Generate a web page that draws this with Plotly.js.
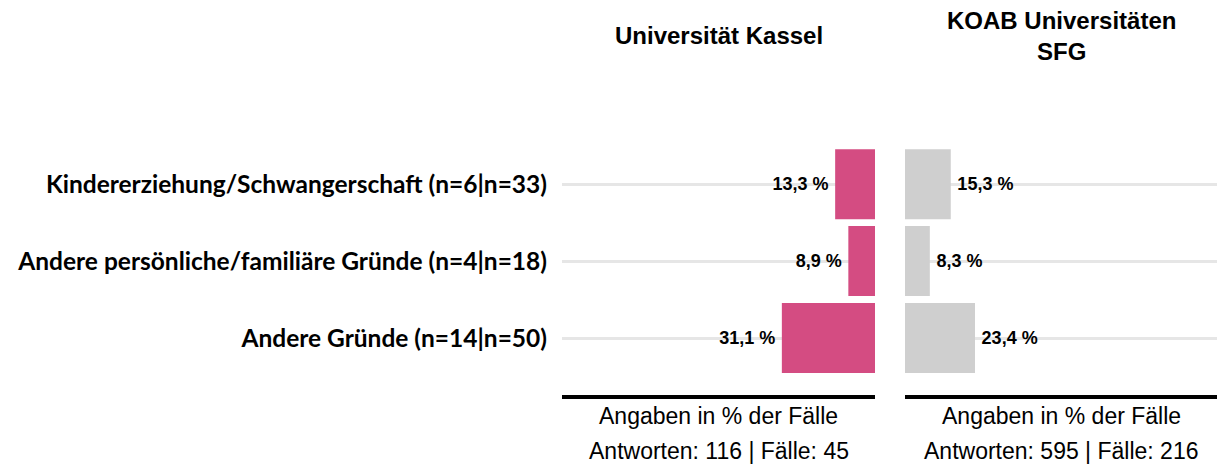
<!DOCTYPE html>
<html>
<head>
<meta charset="utf-8">
<script src="https://cdn.plot.ly/plotly-3.0.1.min.js"></script>
<style>html,body{margin:0;padding:0;background:#fff;}#chart{width:1226px;height:468px;}</style>
</head>
<body>
<div id="chart"></div>
<script>
const categories = [
  "Kindererziehung/Schwangerschaft (n=6|n=33)",
  "Andere persönliche/familiäre Gründe (n=4|n=18)",
  "Andere Gründe (n=14|n=50)"
];
const kasselValues = [13.3, 8.9, 31.1];
const koabValues = [15.3, 8.3, 23.4];
const panelTitles = ["Universität Kassel", "KOAB Universitäten<br>SFG"];
const footLine1 = ["Angaben in % der Fälle", "Angaben in % der Fälle"];
const footLine2 = ["Antworten: 116 | Fälle: 45", "Antworten: 595 | Fälle: 216"];

const fmt = v => v.toFixed(1).replace('.', ',') + ' %';
const labelFont = {family: 'Liberation Sans, Arial, sans-serif', size: 18, color: '#000', weight: 'bold'};

const traces = [
  {type: 'bar', orientation: 'h', x: kasselValues, y: categories, xaxis: 'x', yaxis: 'y',
   marker: {color: '#d44c82'}, text: kasselValues.map(v => fmt(v) + '\u2009'), textposition: 'outside',
   textfont: labelFont, cliponaxis: false, hoverinfo: 'none'},
  {type: 'bar', orientation: 'h', x: koabValues, y: categories, xaxis: 'x2', yaxis: 'y',
   marker: {color: '#cfcfcf'}, text: koabValues.map(v => '\u2009' + fmt(v)), textposition: 'outside',
   textfont: labelFont, cliponaxis: false, hoverinfo: 'none'}
];

const W = 1226;
const xAxisBase = {showgrid: false, zeroline: false, showticklabels: false, ticks: '',
  showline: true, linecolor: '#000', linewidth: 4, anchor: 'y', fixedrange: true};

const annotations = [];
['x', 'x2'].forEach((ax, i) => {
  annotations.push({xref: ax + ' domain', yref: 'paper', x: 0.5, y: 1.397, xanchor: 'center', yanchor: 'middle',
    text: '<b>' + panelTitles[i] + '</b>', showarrow: false,
    font: {family: 'Liberation Sans, Arial, sans-serif', size: 24, color: '#000'}});
  annotations.push({xref: ax + ' domain', yref: 'paper', x: 0.5, y: -0.082, xanchor: 'center', yanchor: 'middle',
    text: footLine1[i], showarrow: false,
    font: {family: 'Liberation Sans, Arial, sans-serif', size: 23, color: '#000'}});
  annotations.push({xref: ax + ' domain', yref: 'paper', x: 0.5, y: -0.218, xanchor: 'center', yanchor: 'middle',
    text: footLine2[i], showarrow: false,
    font: {family: 'Liberation Sans, Arial, sans-serif', size: 23, color: '#000'}});
});

const layout = {
  width: 1226, height: 468,
  margin: {l: 0, r: 0, t: 138, b: 73},
  paper_bgcolor: '#fff', plot_bgcolor: '#fff',
  showlegend: false,
  bargap: 0.09,
  xaxis: Object.assign({}, xAxisBase, {domain: [562 / W, 875 / W], range: [104.5, 0]}),
  xaxis2: Object.assign({}, xAxisBase, {domain: [905 / W, 1217 / W], range: [0, 104.3]}),
  yaxis: {type: 'category', categoryorder: 'array', categoryarray: categories,
    range: [2.74, -0.6], showgrid: true, gridcolor: '#e6e6e6', gridwidth: 3,
    zeroline: false, showline: false, ticks: '', ticklabelstandoff: 14,
    tickfont: {family: 'Lato, Carlito, Calibri, sans-serif', size: 24.5, color: '#000', weight: 'bold'},
    anchor: 'x', fixedrange: true},
  annotations: annotations,
  font: {family: 'Liberation Sans, Arial, sans-serif'}
};

Plotly.newPlot('chart', traces, layout, {displayModeBar: false, staticPlot: true});
</script>
</body>
</html>
